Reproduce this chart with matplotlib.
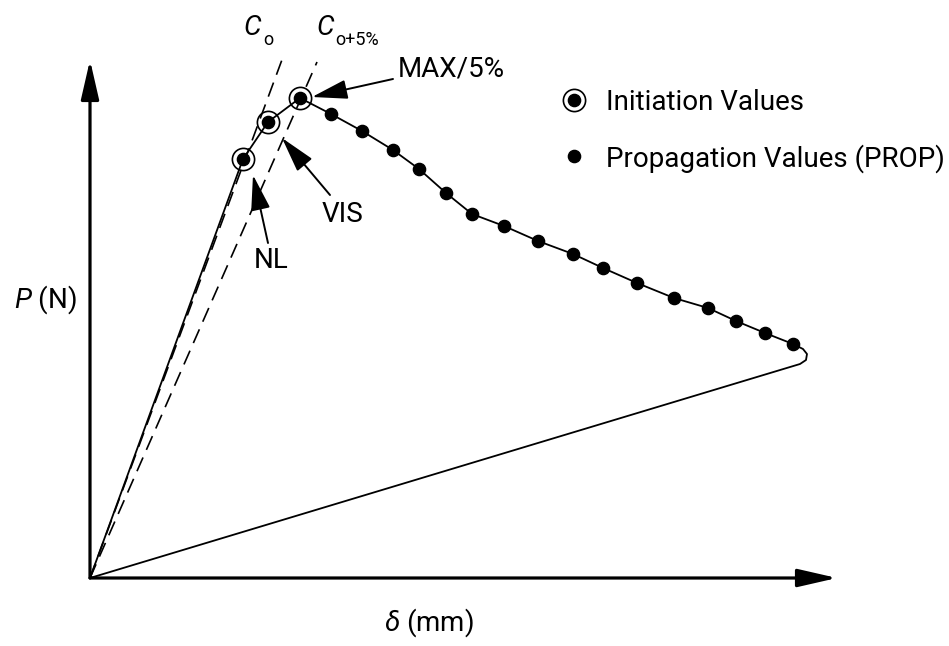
import matplotlib.pyplot as plt
from matplotlib.lines import Line2D

plt.rcParams['font.family'] = ['Roboto', 'DejaVu Sans']
plt.rcParams['mathtext.fontset'] = 'custom'
plt.rcParams['mathtext.rm'] = 'Roboto'
plt.rcParams['mathtext.it'] = 'Roboto:italic'

# initiation points: NL, VIS, MAX/5%
init_delta = [153, 178, 210]
init_P = [419, 456, 480]

# propagation points
prop_delta = [241, 272, 303, 329, 356, 382, 414, 448, 483, 513, 547, 584, 618, 646, 675, 703]
prop_P = [464, 447, 428, 409, 385, 364, 352, 337, 324, 310, 295, 280, 270, 257, 245, 234]

# end of test: turn-back and unloading to origin
hook_delta = [713, 717, 716, 710, 0]
hook_P = [229, 224, 218, 214, 0]

# compliance lines C0 and C0+5%
c0_delta = [0, 193]
c0_P = [0, 521]
c5_delta = [0, 227]
c5_P = [0, 516]

curve_delta = [0] + init_delta + prop_delta + hook_delta
curve_P = [0] + init_P + prop_P + hook_P

fig = plt.figure(figsize=(9.49, 6.46), dpi=100)
ax = fig.add_axes([0, 0, 1, 1])
ax.set_xlim(-90, 859)
ax.set_ylim(-68, 578)
ax.axis('off')

# axes with arrows
axis_arrow = dict(arrowstyle='-|>,head_length=2.4,head_width=0.55', mutation_scale=10,
                  lw=2.3, color='black', shrinkA=0, shrinkB=0)
ax.annotate('', xy=(0, 518), xytext=(0, 0), arrowprops=axis_arrow)
ax.annotate('', xy=(747, 0), xytext=(0, 0), arrowprops=axis_arrow)

ax.plot(c0_delta, c0_P, color='black', lw=1.2, dashes=(9, 5))
ax.plot(c5_delta, c5_P, color='black', lw=1.2, dashes=(9, 5))
ax.plot(curve_delta, curve_P, color='black', lw=1.3)

ax.plot(prop_delta, prop_P, 'o', color='black', ms=8.8)
ax.plot(init_delta, init_P, 'o', color='black', ms=8.8)
ax.plot(init_delta, init_P, 'o', mfc='white', mec='black', mew=1.2, ms=16, zorder=1.5)

# annotations
fs = 20
pointer = dict(arrowstyle='-|>,head_length=2.2,head_width=0.6', mutation_scale=10,
               lw=1.4, color='black', shrinkA=0, shrinkB=0)
ax.annotate('', xy=(222, 481), xytext=(303, 499), arrowprops=pointer)
ax.annotate('', xy=(192, 440), xytext=(240, 383), arrowprops=pointer)
ax.annotate('', xy=(163, 403), xytext=(178, 335), arrowprops=pointer)
ax.text(308, 509, 'MAX/5%', ha='left', va='center', fontsize=fs)
ax.text(252, 364, 'VIS', ha='center', va='center', fontsize=fs)
ax.text(181, 318, 'NL', ha='center', va='center', fontsize=fs)

ax.text(153, 543, 'C', ha='left', va='baseline', fontsize=20, style='italic')
ax.text(173, 533, 'o', ha='left', va='baseline', fontsize=13)
ax.text(226, 543, 'C', ha='left', va='baseline', fontsize=20, style='italic')
ax.text(245, 533, 'o+5%', ha='left', va='baseline', fontsize=13)

ax.text(-13, 278, '$P$ (N)', ha='right', va='center', fontsize=20)
ax.text(339, -45, '$\\delta$ (mm)', ha='center', va='center', fontsize=20)

h_init = (Line2D([], [], ls='none', marker='o', ms=16, mfc='white', mec='black', mew=1.2),
          Line2D([], [], ls='none', marker='o', ms=8.8, color='black'))
h_prop = Line2D([], [], ls='none', marker='o', ms=8.8, color='black')
ax.legend([h_init, h_prop], ['Initiation Values', 'Propagation Values (PROP)'],
          loc='upper left', bbox_to_anchor=(560 / 949, 1 - 89 / 646), frameon=False,
          fontsize=fs, handlelength=1.0, handletextpad=0.65, labelspacing=1.0,
          borderpad=0, borderaxespad=0)

plt.savefig('out.png', dpi=100)
